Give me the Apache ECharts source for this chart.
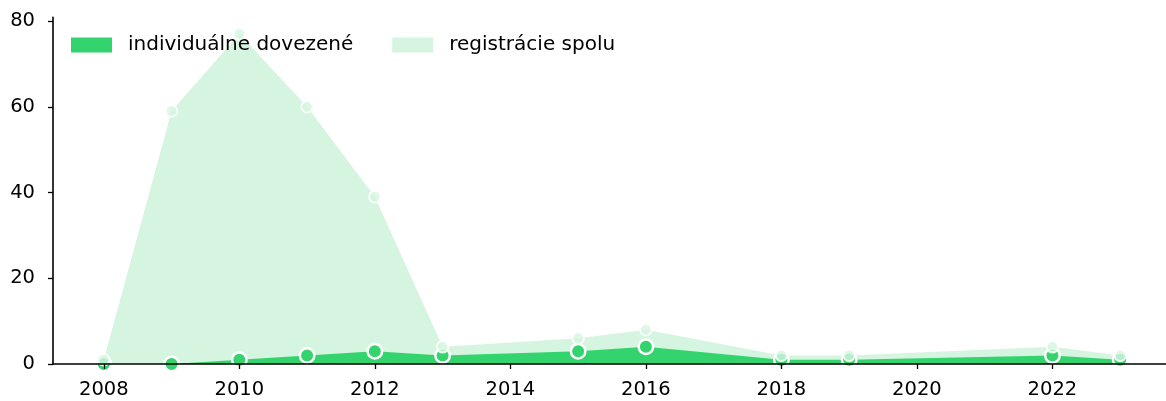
<!DOCTYPE html>
<html>
<head>
<meta charset="utf-8">
<script src="https://cdn.jsdelivr.net/npm/echarts@6/dist/echarts.min.js"></script>
<style>
  html, body { margin: 0; padding: 0; background: #fff; }
  #chart { width: 1166px; height: 401px; }
</style>
</head>
<body>
<div id="chart"></div>
<script>
// Registrations per year
const years = [2008, 2009, 2010, 2011, 2012, 2013, 2015, 2016, 2018, 2019, 2022, 2023];
const totalRegs = [1, 59, 77, 60, 39, 4, 6, 8, 2, 2, 4, 2];
const individualImports = [0, 0, 1, 2, 3, 2, 3, 4, 1, 1, 2, 1];
const xTicks = [2008, 2010, 2012, 2014, 2016, 2018, 2020, 2022];
const yTicks = [0, 20, 40, 60, 80];

const nameIndividual = 'individuálne dovezené';
const nameTotal = 'registrácie spolu';
const darkGreen = '#33d46e';
const lightGreen = '#d6f5e0';
const font = 'DejaVu Sans';

const pairs = (vals) => years.map((y, i) => [y, vals[i]]);

const chart = echarts.init(document.getElementById('chart'), null, { renderer: 'canvas' });
chart.setOption({
  animation: false,
  backgroundColor: '#fff',
  textStyle: { fontFamily: font },
  // the x range runs past the right edge of the canvas, so the axis ends where the canvas does
  grid: { left: 53, right: 0, top: 17.4, height: 346.6, containLabel: false },
  legend: {
    left: 71, top: 35, padding: 0,
    icon: 'rect', itemWidth: 41, itemHeight: 15, itemGap: 39,
    textStyle: { fontFamily: font, fontSize: 20, color: '#000', padding: [0, 0, 0, 11] },
    data: [
      { name: nameIndividual, itemStyle: { color: darkGreen, borderWidth: 0 } },
      { name: nameTotal, itemStyle: { color: lightGreen, borderWidth: 0 } }
    ]
  },
  xAxis: {
    type: 'value', min: 2007.25, max: 2023.676, z: 10,
    splitLine: { show: false },
    axisLine: { show: true, onZero: false, lineStyle: { color: '#000', width: 1.6 } },
    axisTick: { show: true, length: 5, lineStyle: { color: '#000', width: 1.3 }, customValues: xTicks },
    axisLabel: { fontFamily: font, fontSize: 19.5, color: '#000', margin: 16, customValues: xTicks,
                 formatter: (v) => String(v) }
  },
  yAxis: {
    type: 'value', min: 0, max: 80.85, z: 10,
    splitLine: { show: false },
    axisLine: { show: true, lineStyle: { color: '#000', width: 1.6 } },
    axisTick: { show: true, length: 5, lineStyle: { color: '#000', width: 1.3 }, customValues: yTicks },
    axisLabel: { fontFamily: font, fontSize: 19.5, color: '#000', margin: 18, customValues: yTicks }
  },
  series: [
    {
      name: nameTotal, type: 'line', data: pairs(totalRegs), z: 1,
      symbol: 'none', clip: false,
      lineStyle: { width: 0 },
      itemStyle: { color: lightGreen },
      areaStyle: { color: lightGreen, opacity: 1 }
    },
    {
      name: nameIndividual, type: 'line', data: pairs(individualImports), z: 2,
      symbol: 'circle', symbolSize: 14.5, showAllSymbol: true, clip: false,
      lineStyle: { width: 0 },
      itemStyle: { color: darkGreen, borderColor: '#fff', borderWidth: 2.5 },
      areaStyle: { color: darkGreen, opacity: 1 }
    },
    {
      name: 'totalMarkers', type: 'scatter', data: pairs(totalRegs), z: 3,
      symbol: 'circle', symbolSize: 11.5, clip: false,
      itemStyle: { color: lightGreen, borderColor: '#fff', borderWidth: 2 }
    }
  ]
});
</script>
</body>
</html>
